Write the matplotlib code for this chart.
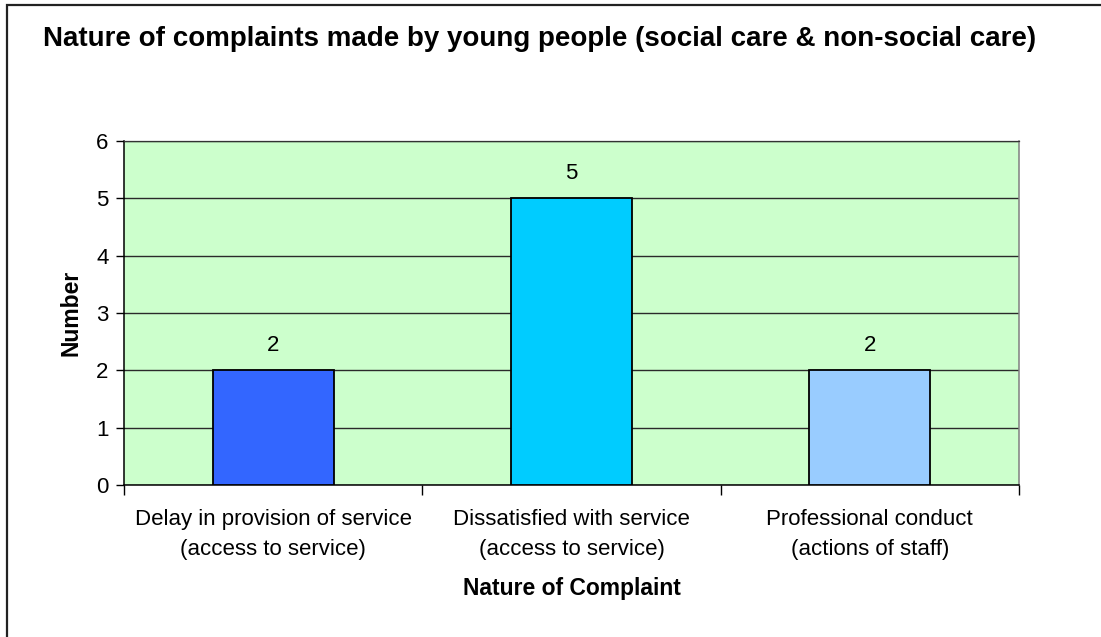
import matplotlib
matplotlib.use("Agg")
import matplotlib.pyplot as plt
from matplotlib.patches import Rectangle
from matplotlib.ticker import FixedLocator

categories = [
    "Delay in provision of service\n(access to service)",
    "Dissatisfied with service\n(access to service)",
    "Professional conduct\n(actions of staff)",
]
counts = [2, 5, 2]
bar_colors = ["#3366FF", "#00CCFF", "#99CCFF"]
y_ticks = [0, 1, 2, 3, 4, 5, 6]

title = "Nature of complaints made by young people (social care & non-social care)"
x_label = "Nature of Complaint"
y_label = "Number"

plt.rcParams["font.family"] = ["Liberation Sans", "DejaVu Sans"]

W, H = 1101, 637
fig = plt.figure(figsize=(W / 100, H / 100), dpi=100)
fig.patch.set_facecolor("white")

# chart-area frame (left and top edges visible)
fig.add_artist(Rectangle((7 / W, -0.2), 1.2, 1.2 - 5 / H,
                         transform=fig.transFigure, fill=False,
                         edgecolor="#222222", linewidth=1.6))

ax = fig.add_axes([124 / W, 1 - 485 / H, (1019 - 124) / W, (485 - 141) / H])
ax.set_facecolor("#CCFFCC")

x = list(range(len(categories)))
ax.bar(x, counts, width=0.405, color=bar_colors,
       edgecolor="black", linewidth=1.3, zorder=3)

for xi, v in zip(x, counts):
    ax.annotate(str(v), (xi, v), xytext=(0, 18), textcoords="offset points",
                ha="center", va="center", fontsize=16)

ax.set_xlim(-0.5, len(categories) - 0.5)
ax.set_ylim(0, 6)
ax.set_yticks(y_ticks)
ax.yaxis.grid(True, color="#2a2a2a", linewidth=1.0, zorder=1)
ax.set_axisbelow(True)

ax.set_xticks(x)
ax.set_xticklabels(categories, fontsize=16, linespacing=1.6)
ax.xaxis.set_minor_locator(FixedLocator([i - 0.5 for i in range(len(categories) + 1)]))
ax.tick_params(axis="x", which="major", length=0, pad=17)
ax.tick_params(axis="x", which="minor", length=7, width=1, direction="out", color="black")
ax.tick_params(axis="y", length=6, width=1, direction="out", labelsize=16, pad=5)

for s in ["left", "bottom"]:
    ax.spines[s].set_color("black")
    ax.spines[s].set_linewidth(1.1)
ax.spines["top"].set_color("#333333")
ax.spines["top"].set_linewidth(0.9)
ax.spines["right"].set_color("#808080")
ax.spines["right"].set_linewidth(1.1)

ax.set_xlabel(x_label, fontsize=16.5, fontweight="bold")
ax.set_ylabel(y_label, fontsize=16.5, fontweight="bold")
ax.xaxis.set_label_coords(0.5, (485 - 588) / 344)
ax.xaxis.label.set_va("center")
ax.yaxis.set_label_coords((71 - 124) / 895, (485 - 313) / 344)
ax.yaxis.label.set_va("center")

fig.text(540 / W, 1 - 39 / H, title, ha="center", va="center",
         fontsize=20, fontweight="bold")

fig.savefig("out.png", dpi=100)
